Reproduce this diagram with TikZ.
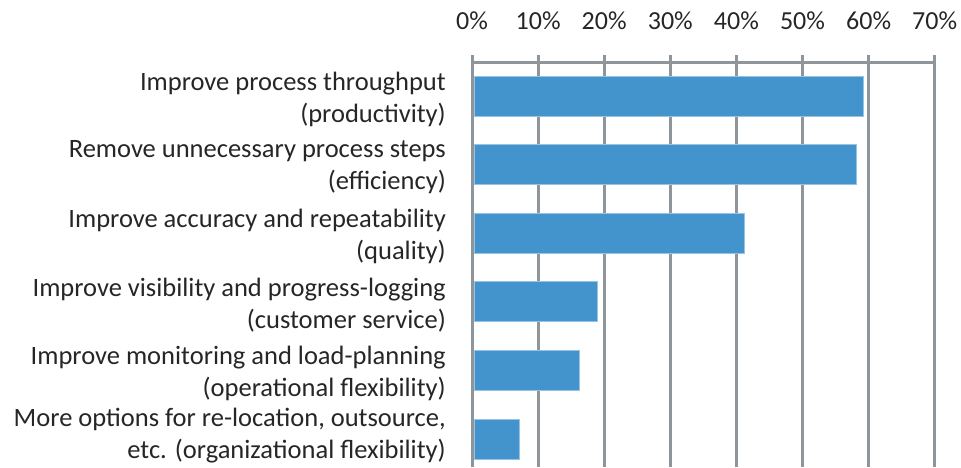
\documentclass[tikz,border=0pt]{standalone}
\usepackage{fontspec}
\setmainfont{Carlito}
\definecolor{barblue}{RGB}{67,148,204}
\definecolor{gridgray}{RGB}{142,149,155}
\begin{document}
\begin{tikzpicture}[x=1pt,y=-1pt,
  bar/.style={fill=barblue,draw=barblue!55!white,line width=0.8pt},
  gridline/.style={draw=gridgray,line width=3pt},
  catlabel/.style={anchor=east,align=right,inner sep=0pt,
    font=\fontsize{26.5}{32}\selectfont,text=black!85},
  ticklabel/.style={inner sep=0pt,font=\fontsize{26}{28}\selectfont,text=black!85}]
  \useasboundingbox (0,0) rectangle (961,467);
  % Grid lines and tick labels
  \foreach \p/\t in {0/0,1/10,2/20,3/30,4/40,5/50,6/60,7/70} {
    \draw[gridline] (472+66.1*\p,55) -- (472+66.1*\p,467);
    \node[ticklabel] (tick\p) at (472+66.1*\p,21) {\t\%};
  }
  % Axis line
  \draw[gridline] (470.5,62) -- (935.5,62);
  % Bars
  \foreach \v [count=\i from 0] in {59.2,58.2,41.2,19.0,16.2,7.1} {
    \draw[bar] (474,76+68.6*\i) rectangle (472+6.61*\v,116+68.6*\i);
  }
  % Category labels
  \node[catlabel] (cat0) at (446,99) {Improve process throughput\\(productivity)};
  \node[catlabel] (cat1) at (446,167.6) {Remove unnecessary process steps\\(efficiency)};
  \node[catlabel] (cat2) at (446,236.2) {Improve accuracy and repeatability\\(quality)};
  \node[catlabel] (cat3) at (446,304.8) {Improve visibility and progress-logging\\(customer service)};
  \node[catlabel] (cat4) at (446,373.4) {Improve monitoring and load-planning\\(operational flexibility)};
  \node[catlabel] (cat5) at (446,436) {More options for re-location, outsource,\\etc. (organizational flexibility)};
\end{tikzpicture}
\end{document}
